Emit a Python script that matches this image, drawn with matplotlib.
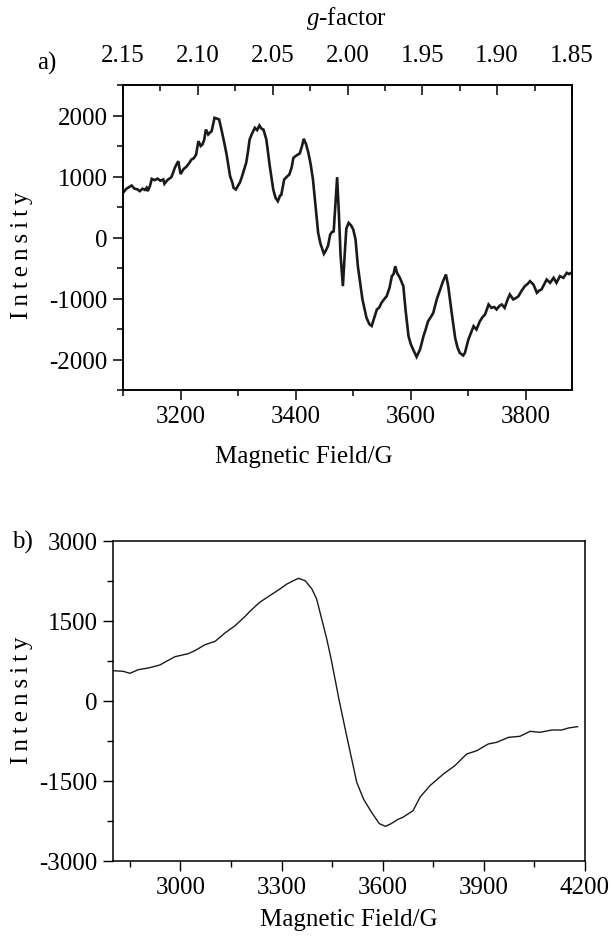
import matplotlib
matplotlib.use('Agg')
import matplotlib.pyplot as plt
from matplotlib.ticker import MultipleLocator, FormatStrFormatter

plt.rcParams['font.family'] = ['Liberation Serif', 'DejaVu Serif']
plt.rcParams['mathtext.fontset'] = 'custom'
plt.rcParams['mathtext.it'] = 'Liberation Serif:italic'
plt.rcParams['axes.unicode_minus'] = False

# a) EPR spectrum (noisy), field in G
field_a = [3100, 3106, 3111, 3115, 3120, 3125, 3129, 3134, 3138, 3141, 3143, 3147, 3150, 3155,
           3160, 3165, 3170, 3172, 3177, 3184, 3187, 3190, 3193, 3196, 3200, 3205, 3210, 3215,
           3219, 3223, 3227, 3231, 3235, 3238, 3241, 3244, 3248, 3251, 3254, 3259, 3263, 3267,
           3271, 3276, 3280, 3286, 3290, 3292, 3296, 3300, 3303, 3306, 3310, 3314, 3317, 3320,
           3324, 3329, 3333, 3337, 3341, 3344, 3349, 3355, 3361, 3365, 3369, 3373, 3375, 3380,
           3385, 3389, 3393, 3396, 3402, 3407, 3411, 3414, 3418, 3422, 3426, 3430, 3434, 3439,
           3443, 3449, 3452, 3456, 3460, 3463, 3466, 3472, 3475, 3478, 3482, 3485, 3488, 3492,
           3496, 3500, 3504, 3508, 3512, 3516, 3523, 3528, 3532, 3536, 3541, 3545, 3549, 3553,
           3558, 3563, 3567, 3570, 3573, 3576, 3581, 3587, 3591, 3596, 3600, 3604, 3610, 3616,
           3622, 3626, 3630, 3635, 3639, 3645, 3651, 3656, 3661, 3665, 3671, 3677, 3681, 3685,
           3691, 3694, 3700, 3705, 3709, 3714, 3720, 3725, 3729, 3735, 3740, 3745, 3749, 3754,
           3758, 3763, 3768, 3772, 3778, 3783, 3787, 3792, 3798, 3803, 3807, 3813, 3819, 3823,
           3827, 3832, 3836, 3842, 3848, 3853, 3859, 3865, 3871, 3875, 3880]
intensity_a = [733, 800, 830, 852, 800, 790, 760, 800, 780, 815, 760, 850, 962, 940,
               965, 930, 951, 880, 940, 989, 1060, 1142, 1200, 1251, 1040, 1120, 1159, 1220,
               1279, 1300, 1360, 1579, 1500, 1525, 1600, 1770, 1689, 1720, 1743, 1962, 1950, 1934,
               1770, 1550, 1360, 1005, 900, 815, 787, 852, 900, 979, 1100, 1224, 1400, 1607,
               1700, 1798, 1760, 1836, 1780, 1770, 1607, 1169, 787, 650, 595, 689, 700, 951,
               1000, 1033, 1150, 1306, 1350, 1377, 1500, 1618, 1530, 1388, 1200, 951, 560, 77,
               -100, -267, -220, -142, 50, 90, 100, 989, 400, -300, -798, -300, 150, 240,
               200, 131, -33, -470, -743, -1016, -1317, -1420, -1450, -1330, -1180, -1150, -1071, -1020,
               -962, -825, -634, -600, -470, -580, -661, -798, -1200, -1618, -1750, -1836, -1956, -1836,
               -1618, -1500, -1372, -1300, -1235, -1016, -852, -716, -607, -798, -1235, -1645, -1800, -1891,
               -1934, -1891, -1672, -1550, -1454, -1508, -1372, -1300, -1262, -1098, -1153, -1140, -1180, -1120,
               -1098, -1153, -1020, -934, -1016, -990, -962, -880, -798, -760, -716, -770, -907, -870,
               -852, -760, -689, -743, -661, -743, -634, -661, -579, -600, -568]

# b) smooth spectrum
field_b = [2800, 2831, 2850, 2875, 2905, 2939, 2960, 2984, 3023, 3043, 3073, 3103, 3132, 3162,
           3191, 3206, 3235, 3265, 3295, 3315, 3335, 3350, 3370, 3390, 3404, 3419, 3434, 3447,
           3471, 3493, 3523, 3543, 3567, 3590, 3608, 3625, 3645, 3660, 3690, 3711, 3740, 3780,
           3814, 3849, 3879, 3913, 3938, 3973, 4007, 4037, 4067, 4101, 4131, 4151, 4178]
intensity_b = [569, 556, 519, 587, 619, 675, 750, 831, 887, 944, 1056, 1119, 1275, 1412,
               1581, 1680, 1850, 1975, 2100, 2190, 2256, 2300, 2256, 2100, 1912, 1538, 1163, 788,
               6, -651, -1525, -1838, -2088, -2300, -2350, -2300, -2220, -2180, -2056, -1800, -1588, -1369,
               -1213, -994, -932, -806, -775, -681, -662, -569, -587, -544, -544, -506, -481]

g_ticks = [2.15, 2.10, 2.05, 2.00, 1.95, 1.90, 1.85]

W, H = 613, 937
fig = plt.figure(figsize=(W / 100, H / 100), dpi=100)

def px_rect(l, t, r, b):
    return [l / W, 1 - b / H, (r - l) / W, (b - t) / H]

fs = 18
col = '#1a1a1a'

#%% panel a
ax1 = fig.add_axes(px_rect(123, 86, 572, 391))
ax1.plot(field_a, intensity_a, color=col, lw=1.9, solid_joinstyle='miter')
ax1.set_xlim(3100, 3880)
ax1.set_ylim(-2500, 2500)
ax1.xaxis.set_major_locator(MultipleLocator(200))
ax1.xaxis.set_minor_locator(MultipleLocator(100))
ax1.yaxis.set_major_locator(MultipleLocator(1000))
ax1.yaxis.set_minor_locator(MultipleLocator(500))
ax1.tick_params(which='both', direction='out', top=False, right=False, labelsize=fs, width=1.1)
ax1.tick_params(which='major', length=7, pad=4)
ax1.tick_params(which='minor', length=4)

ax1g = ax1.twiny()
ax1g.set_xlim(2.15, 1.85)
ax1g.set_xticks(g_ticks)
ax1g.xaxis.set_minor_locator(MultipleLocator(0.025))
ax1g.xaxis.set_major_formatter(FormatStrFormatter('%.2f'))
ax1g.tick_params(which='both', direction='in', labelsize=fs, width=1.1, pad=14)
ax1g.tick_params(which='major', length=7)
ax1g.tick_params(which='minor', length=4)
for a in (ax1, ax1g):
    for s in a.spines.values():
        s.set_linewidth(1.2)

fig.text(346 / W, 1 - 18 / H, r'$g$-factor', fontsize=fs, ha='center', va='center')
fig.text(47 / W, 1 - 63 / H, 'a)', fontsize=fs, ha='center', va='center')
fig.text(304 / W, 1 - 457 / H, 'Magnetic Field/G', fontsize=fs, ha='center', va='center')
fig.text(22 / W, 1 - 255 / H, 'I\u2009n\u2009t\u2009e\u2009n\u2009s\u2009i\u2009t\u2009y',
         fontsize=fs, rotation=90, ha='center', va='center')

#%% panel b
ax2 = fig.add_axes(px_rect(113, 542, 585, 862))
ax2.plot(field_b, intensity_b, color=col, lw=1.0)
ax2.set_xlim(2800, 4200)
ax2.set_ylim(-3000, 3000)
ax2.xaxis.set_major_locator(MultipleLocator(300))
ax2.xaxis.set_minor_locator(MultipleLocator(150))
ax2.yaxis.set_major_locator(MultipleLocator(1500))
ax2.yaxis.set_minor_locator(MultipleLocator(750))
ax2.tick_params(which='both', direction='out', top=False, right=False, labelsize=fs, width=1.0)
ax2.tick_params(which='major', length=7, pad=4)
ax2.tick_params(which='minor', length=4)
for s in ax2.spines.values():
    s.set_linewidth(1.1)

fig.text(22 / W, 1 - 542 / H, 'b)', fontsize=fs, ha='center', va='center')
fig.text(349 / W, 1 - 920 / H, 'Magnetic Field/G', fontsize=fs, ha='center', va='center')
fig.text(22 / W, 1 - 700 / H, 'I\u2009n\u2009t\u2009e\u2009n\u2009s\u2009i\u2009t\u2009y',
         fontsize=fs, rotation=90, ha='center', va='center')

fig.savefig('out.png', dpi=100)
